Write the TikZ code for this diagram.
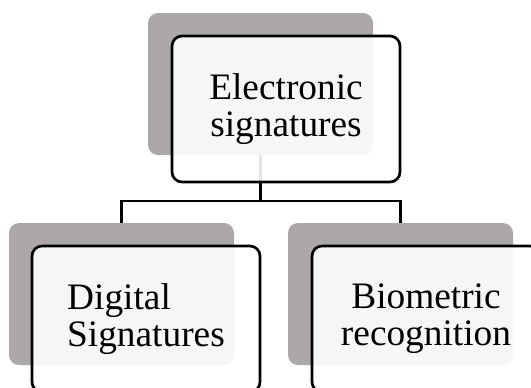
\documentclass[tikz,border=0pt]{standalone}
\usepackage{fontspec}
\setmainfont{Liberation Serif}
\definecolor{shadowgray}{RGB}{172,168,168}
\begin{document}
\begin{tikzpicture}[x=0.75pt,y=-0.75pt,
  backbox/.style={fill=shadowgray, rounded corners=7.5pt, minimum width=168.75pt, minimum height=106.5pt, inner sep=0pt},
  frontbox/.style={draw=black, line width=2pt, fill=white, fill opacity=0.9, text opacity=1, rounded corners=7.5pt, minimum width=171pt, minimum height=109.5pt, align=center, inner sep=0pt, font=\fontsize{28}{27.75}\selectfont},
  link/.style={line width=2pt, black}]
\useasboundingbox (0,0) rectangle (531,387);
\clip (0,0) rectangle (531,387);
% shadow boxes
\node[backbox] (g0) at (260.5,84) {};
\node[backbox] (g1) at (121.5,294) {};
\node[backbox] (g2) at (400.5,294) {};
% connectors
\coordinate (j) at (260.5,201);
\draw[link] (g0.south) -- (g0.south |- j) -| (g1.north);
\draw[link] (g0.south |- j) -| (g2.north);
% front boxes
\node[frontbox] (f0) at (286,109) {Electronic\\signatures};
\node[frontbox, align=left] (f1) at (146,319) {Digital\\Signatures};
\node[frontbox] (f2) at (426,319) {Biometric\\recognition};
\end{tikzpicture}
\end{document}
